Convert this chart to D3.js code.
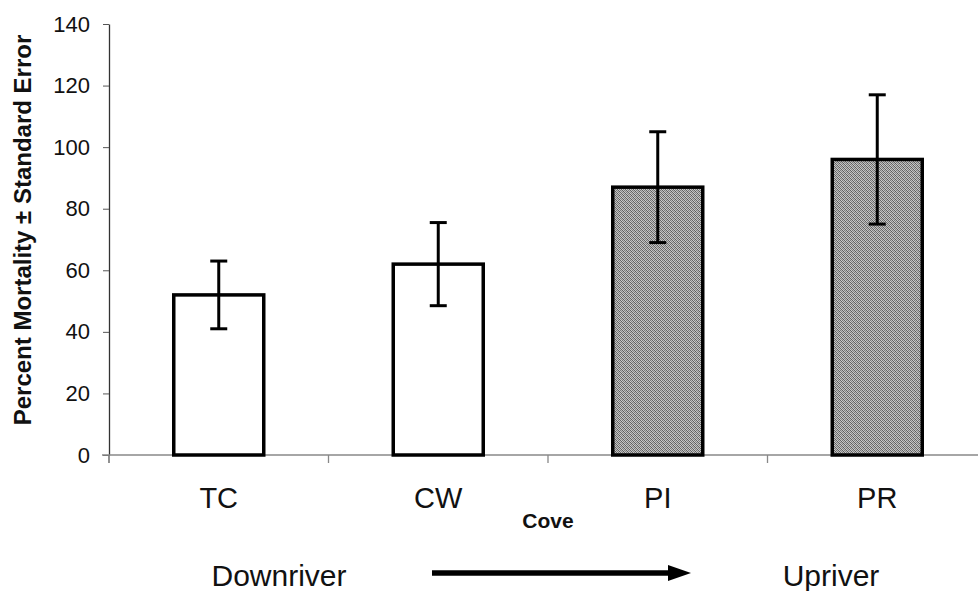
<!DOCTYPE html>
<html>
<head>
<meta charset="utf-8">
<script src="https://cdn.jsdelivr.net/npm/d3@7"></script>
<style>
  html, body { margin: 0; padding: 0; background: #fff; }
  svg { display: block; font-family: Arial, "Liberation Sans", sans-serif; }
</style>
</head>
<body>
<svg id="chart" width="978" height="591"></svg>
<script>
// Sites along the river, downriver to upriver
const categories = ["TC", "CW", "PI", "PR"];
const mortality = [52, 62, 87, 96];
const stdError = [11, 13.5, 18, 21];
const shaded = [false, false, true, true];
const yTicks = [0, 20, 40, 60, 80, 100, 120, 140];

const svg = d3.select("#chart");
const width = 978, height = 591;

// Halftone-like gray fill for the upriver sites
const defs = svg.append("defs");
const pat = defs.append("pattern")
  .attr("id", "halftone")
  .attr("patternUnits", "userSpaceOnUse")
  .attr("width", 4).attr("height", 4);
const tile = [
  ["#666666", "#cbcbcb", "#767676", "#bebebe"],
  ["#c2c2c2", "#5e5e5e", "#cecece", "#818181"],
  ["#7a7a7a", "#b8b8b8", "#646464", "#c7c7c7"],
  ["#c6c6c6", "#868686", "#bcbcbc", "#5a5a5a"]
];
tile.forEach((row, j) => row.forEach((c, i) => {
  pat.append("rect").attr("x", i).attr("y", j).attr("width", 1).attr("height", 1).attr("fill", c);
}));

const x = d3.scaleBand()
  .domain(categories)
  .range([109, 987])
  .paddingInner(0.59)
  .paddingOuter(0.295);

const y = d3.scaleLinear().domain([0, 140]).range([455, 24]);

// Y axis
const yAxis = svg.append("g")
  .attr("transform", "translate(109,0)")
  .call(d3.axisLeft(y).tickValues(yTicks).tickSize(6).tickPadding(13).tickSizeOuter(0));
yAxis.select(".domain").attr("stroke", "#333").attr("stroke-width", 1.3);
yAxis.selectAll(".tick line").attr("stroke", "#555");
yAxis.selectAll(".tick text")
  .attr("font-size", 22).attr("fill", "#111")
  .attr("font-family", "Arial, 'Liberation Sans', sans-serif");
// axis line continues a little below zero
svg.append("line").attr("x1", 109).attr("x2", 109).attr("y1", 455).attr("y2", 463)
  .attr("stroke", "#555").attr("stroke-width", 1.3);

// X axis baseline with boundary ticks between sites
svg.append("line").attr("x1", 102).attr("x2", width).attr("y1", y(0)).attr("y2", y(0))
  .attr("stroke", "#888").attr("stroke-width", 1.5);
const step = x.step();
categories.slice(1).forEach(c => {
  const bx = x(c) + x.bandwidth() / 2 - step / 2;
  svg.append("line")
    .attr("x1", bx).attr("x2", bx)
    .attr("y1", y(0)).attr("y2", y(0) + 8)
    .attr("stroke", "#888").attr("stroke-width", 1.3);
});

// Bars
svg.append("g").selectAll("rect")
  .data(categories)
  .join("rect")
  .attr("x", d => x(d))
  .attr("y", (d, i) => y(mortality[i]))
  .attr("width", x.bandwidth())
  .attr("height", (d, i) => y(0) - y(mortality[i]))
  .attr("fill", (d, i) => shaded[i] ? "url(#halftone)" : "#fff")
  .attr("stroke", "#000")
  .attr("stroke-width", 3.5);

// Error bars
const eb = svg.append("g").attr("stroke", "#000").attr("stroke-width", 3);
categories.forEach((c, i) => {
  const cx = x(c) + x.bandwidth() / 2;
  const hi = y(mortality[i] + stdError[i]);
  const lo = y(mortality[i] - stdError[i]);
  eb.append("line").attr("x1", cx).attr("x2", cx).attr("y1", hi).attr("y2", lo);
  eb.append("line").attr("x1", cx - 8.5).attr("x2", cx + 8.5).attr("y1", hi).attr("y2", hi);
  eb.append("line").attr("x1", cx - 8.5).attr("x2", cx + 8.5).attr("y1", lo).attr("y2", lo);
});

// Category labels
svg.append("g").selectAll("text")
  .data(categories)
  .join("text")
  .attr("x", d => x(d) + x.bandwidth() / 2)
  .attr("y", 508)
  .attr("text-anchor", "middle")
  .attr("font-size", 29)
  .attr("fill", "#111")
  .text(d => d);

// Y axis title
svg.append("text")
  .attr("transform", "translate(31,230) rotate(-90)")
  .attr("text-anchor", "middle")
  .attr("font-size", 24)
  .attr("font-weight", "bold")
  .attr("fill", "#111")
  .text("Percent Mortality \u00b1 Standard Error");

// X axis title and river direction
svg.append("text")
  .attr("x", 548).attr("y", 528)
  .attr("text-anchor", "middle")
  .attr("font-size", 21).attr("font-weight", "bold").attr("fill", "#111")
  .text("Cove");

svg.append("text")
  .attr("x", 279).attr("y", 586)
  .attr("text-anchor", "middle")
  .attr("font-size", 30).attr("fill", "#111")
  .text("Downriver");

svg.append("text")
  .attr("x", 831).attr("y", 586)
  .attr("text-anchor", "middle")
  .attr("font-size", 30).attr("fill", "#111")
  .text("Upriver");

svg.append("line")
  .attr("x1", 432).attr("x2", 672).attr("y1", 573).attr("y2", 573)
  .attr("stroke", "#000").attr("stroke-width", 5.5);
svg.append("path")
  .attr("d", "M668,565 L691,573 L668,581 Z")
  .attr("fill", "#000");
</script>
</body>
</html>
